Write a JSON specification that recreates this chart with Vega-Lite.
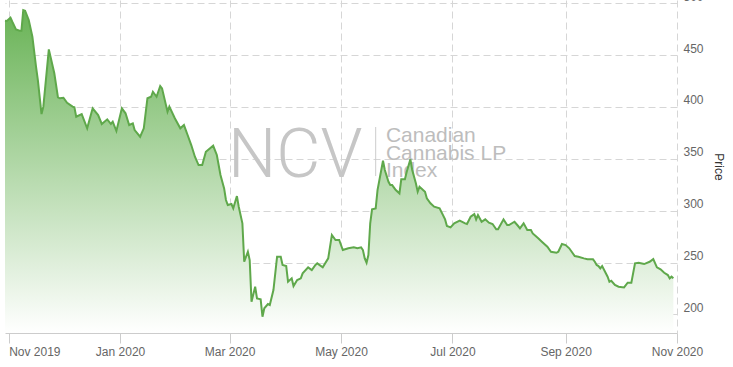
{
  "$schema": "https://vega.github.io/schema/vega-lite/v6.json",
  "width": 672,
  "height": 333,
  "autosize": {"type": "none"},
  "padding": {"left": 5, "top": 0, "right": 56, "bottom": 34},
  "background": "white",
  "config": {"view": {"stroke": null}, "font": "Liberation Sans"},
  "data": {"values": [
    {"date":"2019-10-30","price":483.2},{"date":"2019-10-31","price":482.9},{"date":"2019-11-02","price":486.1},{"date":"2019-11-03","price":482.2},{"date":"2019-11-05","price":474.9},{"date":"2019-11-07","price":473.6},{"date":"2019-11-08","price":473.6},{"date":"2019-11-09","price":493.5},{"date":"2019-11-10","price":492.9},{"date":"2019-11-12","price":483.9},{"date":"2019-11-14","price":467.8},{"date":"2019-11-16","price":438.8},{"date":"2019-11-17","price":426.0},{"date":"2019-11-19","price":393.2},{"date":"2019-11-20","price":400.3},{"date":"2019-11-23","price":455.6},{"date":"2019-11-26","price":432.5},{"date":"2019-11-28","price":409.3},{"date":"2019-11-29","price":408.4},{"date":"2019-12-01","price":408.9},{"date":"2019-12-03","price":404.1},{"date":"2019-12-06","price":400.3},{"date":"2019-12-07","price":399.7},{"date":"2019-12-08","price":390.6},{"date":"2019-12-11","price":393.2},{"date":"2019-12-14","price":379.4},{"date":"2019-12-17","price":398.7},{"date":"2019-12-20","price":392.2},{"date":"2019-12-22","price":383.6},{"date":"2019-12-25","price":388.1},{"date":"2019-12-27","price":383.6},{"date":"2019-12-28","price":385.8},{"date":"2019-12-30","price":376.8},
    {"date":"2020-01-02","price":398.7},{"date":"2020-01-04","price":393.9},{"date":"2020-01-06","price":382.6},{"date":"2020-01-08","price":384.2},{"date":"2020-01-09","price":377.8},{"date":"2020-01-12","price":371.3},{"date":"2020-01-14","price":379.4},{"date":"2020-01-16","price":408.4},{"date":"2020-01-18","price":409.9},{"date":"2020-01-19","price":414.7},{"date":"2020-01-21","price":409.9},{"date":"2020-01-23","price":420.2},{"date":"2020-01-24","price":418.0},{"date":"2020-01-27","price":395.4},{"date":"2020-01-28","price":400.3},{"date":"2020-01-31","price":389.1},
    {"date":"2020-02-03","price":379.4},{"date":"2020-02-05","price":382.6},{"date":"2020-02-07","price":373.0},{"date":"2020-02-09","price":363.3},{"date":"2020-02-11","price":352.0},{"date":"2020-02-13","price":344.0},{"date":"2020-02-15","price":344.0},{"date":"2020-02-17","price":356.8},{"date":"2020-02-21","price":362.6},{"date":"2020-02-23","price":353.7},{"date":"2020-02-25","price":334.4},{"date":"2020-02-27","price":321.5},{"date":"2020-02-28","price":310.3},{"date":"2020-02-29","price":305.4},
    {"date":"2020-03-02","price":306.4},{"date":"2020-03-03","price":302.2},{"date":"2020-03-05","price":314.1},{"date":"2020-03-06","price":303.8},{"date":"2020-03-08","price":287.8},{"date":"2020-03-09","price":250.7},{"date":"2020-03-11","price":260.4},{"date":"2020-03-12","price":252.4},{"date":"2020-03-13","price":212.2},{"date":"2020-03-15","price":226.6},{"date":"2020-03-16","price":215.4},{"date":"2020-03-18","price":214.5},{"date":"2020-03-19","price":197.7},{"date":"2020-03-20","price":205.8},{"date":"2020-03-22","price":209.9},{"date":"2020-03-23","price":209.0},{"date":"2020-03-25","price":223.4},{"date":"2020-03-27","price":255.6},{"date":"2020-03-29","price":255.6},{"date":"2020-03-30","price":247.6},
    {"date":"2020-04-01","price":246.6},{"date":"2020-04-02","price":231.4},{"date":"2020-04-04","price":234.7},{"date":"2020-04-05","price":227.3},{"date":"2020-04-07","price":233.1},{"date":"2020-04-09","price":234.7},{"date":"2020-04-10","price":239.5},{"date":"2020-04-13","price":245.3},{"date":"2020-04-15","price":242.7},{"date":"2020-04-17","price":247.6},{"date":"2020-04-18","price":249.2},{"date":"2020-04-21","price":245.3},{"date":"2020-04-24","price":254.0},{"date":"2020-04-26","price":276.5},{"date":"2020-04-28","price":271.7},{"date":"2020-04-30","price":271.7},
    {"date":"2020-05-02","price":262.0},{"date":"2020-05-05","price":263.7},{"date":"2020-05-08","price":264.6},{"date":"2020-05-10","price":263.7},{"date":"2020-05-12","price":264.6},{"date":"2020-05-13","price":262.0},{"date":"2020-05-14","price":254.0},{"date":"2020-05-15","price":249.8},{"date":"2020-05-16","price":257.2},{"date":"2020-05-17","price":287.8},{"date":"2020-05-18","price":301.3},{"date":"2020-05-20","price":302.2},{"date":"2020-05-21","price":319.9},{"date":"2020-05-24","price":348.2},{"date":"2020-05-25","price":339.2},{"date":"2020-05-27","price":327.9},{"date":"2020-05-28","price":324.7},{"date":"2020-05-29","price":324.7},{"date":"2020-05-31","price":319.9},
    {"date":"2020-06-02","price":316.7},{"date":"2020-06-03","price":330.2},{"date":"2020-06-05","price":330.2},{"date":"2020-06-06","price":337.6},{"date":"2020-06-08","price":349.5},{"date":"2020-06-09","price":339.2},{"date":"2020-06-11","price":326.4},{"date":"2020-06-12","price":318.3},{"date":"2020-06-13","price":323.1},{"date":"2020-06-16","price":318.3},{"date":"2020-06-17","price":311.9},{"date":"2020-06-19","price":307.1},{"date":"2020-06-21","price":303.8},{"date":"2020-06-24","price":302.2},{"date":"2020-06-27","price":291.6},{"date":"2020-06-28","price":285.2},{"date":"2020-06-30","price":283.9},
    {"date":"2020-07-02","price":287.8},{"date":"2020-07-05","price":290.3},{"date":"2020-07-08","price":287.8},{"date":"2020-07-09","price":287.1},{"date":"2020-07-11","price":294.1},{"date":"2020-07-13","price":296.7},{"date":"2020-07-14","price":291.6},{"date":"2020-07-15","price":295.8},{"date":"2020-07-17","price":289.3},{"date":"2020-07-19","price":291.6},{"date":"2020-07-21","price":288.4},{"date":"2020-07-23","price":287.1},{"date":"2020-07-25","price":282.0},{"date":"2020-07-26","price":282.0},{"date":"2020-07-29","price":291.6},{"date":"2020-07-31","price":286.1},
    {"date":"2020-08-01","price":286.1},{"date":"2020-08-04","price":289.3},{"date":"2020-08-06","price":285.2},{"date":"2020-08-07","price":283.0},{"date":"2020-08-09","price":287.8},{"date":"2020-08-11","price":281.3},{"date":"2020-08-13","price":281.3},{"date":"2020-08-14","price":278.1},{"date":"2020-08-17","price":273.3},{"date":"2020-08-19","price":270.0},{"date":"2020-08-22","price":265.2},{"date":"2020-08-24","price":260.4},{"date":"2020-08-27","price":259.4},{"date":"2020-08-28","price":260.4},{"date":"2020-08-30","price":267.8},
    {"date":"2020-09-01","price":266.8},{"date":"2020-09-03","price":263.7},{"date":"2020-09-06","price":256.2},{"date":"2020-09-08","price":255.6},{"date":"2020-09-11","price":254.0},{"date":"2020-09-13","price":253.1},{"date":"2020-09-16","price":253.1},{"date":"2020-09-17","price":250.7},{"date":"2020-09-18","price":247.6},{"date":"2020-09-19","price":246.6},{"date":"2020-09-20","price":244.4},{"date":"2020-09-21","price":246.6},{"date":"2020-09-24","price":236.3},{"date":"2020-09-25","price":231.4},{"date":"2020-09-26","price":232.4},{"date":"2020-09-28","price":228.3},{"date":"2020-09-30","price":226.6},
    {"date":"2020-10-03","price":226.0},{"date":"2020-10-05","price":230.5},{"date":"2020-10-07","price":230.5},{"date":"2020-10-09","price":249.2},{"date":"2020-10-11","price":249.8},{"date":"2020-10-14","price":248.5},{"date":"2020-10-17","price":250.7},{"date":"2020-10-19","price":253.3},{"date":"2020-10-21","price":245.3},{"date":"2020-10-23","price":243.4},{"date":"2020-10-25","price":240.1},{"date":"2020-10-27","price":237.9},{"date":"2020-10-28","price":234.7},{"date":"2020-10-29","price":236.3},{"date":"2020-10-30","price":234.7}
  ]},
  "layer": [
    {
      "data": {"values": [{"label": "NCV"}]},
      "mark": {"type": "text", "align": "left", "baseline": "alphabetic", "font": "Roboto", "fontWeight": 300, "fontSize": 68, "color": "#c6c6c6"},
      "encoding": {
        "x": {"datum": {"year": 2020, "month": 2, "date": 29, "hours": 3}, "type": "temporal"},
        "y": {"datum": 332.7, "type": "quantitative"},
        "text": {"field": "label"}
      }
    },
    {
      "data": {"values": [{"label": "separator"}]},
      "mark": {"type": "rule", "color": "#cccccc", "strokeWidth": 1},
      "encoding": {
        "x": {"datum": {"year": 2020, "month": 5, "date": 20}, "type": "temporal"},
        "y": {"datum": 380.7, "type": "quantitative"},
        "y2": {"datum": 333.4}
      }
    },
    {
      "data": {"values": [{"label": "Canadian|Cannabis LP|Index"}]},
      "mark": {"type": "text", "align": "left", "baseline": "top", "lineBreak": "|", "lineHeight": 17.5, "font": "Liberation Sans", "fontSize": 21, "color": "#bdbdbd"},
      "encoding": {
        "x": {"datum": {"year": 2020, "month": 5, "date": 25, "hours": 14}, "type": "temporal"},
        "y": {"datum": 382.5, "type": "quantitative"},
        "text": {"field": "label"}
      }
    },
    {
      "mark": {"type": "area", "color": {"gradient": "linear", "x1": 0, "y1": 0, "x2": 0, "y2": 1, "stops": [{"offset": 0, "color": "#69b356"}, {"offset": 1, "color": "#ffffff"}]}},
      "encoding": {
        "x": {
          "field": "date", "type": "temporal",
          "scale": {"domain": [{"year": 2019, "month": 10, "date": 30}, {"year": 2020, "month": 11, "date": 1}], "nice": false},
          "axis": {
            "title": null,
            "values": [
              {"year": 2019, "month": 11, "date": 1},
              {"year": 2020, "month": 1, "date": 1},
              {"year": 2020, "month": 3, "date": 1},
              {"year": 2020, "month": 5, "date": 1},
              {"year": 2020, "month": 7, "date": 1},
              {"year": 2020, "month": 9, "date": 1},
              {"year": 2020, "month": 11, "date": 1}
            ],
            "format": "%b %Y",
            "labelFont": "Liberation Sans",
            "labelFontSize": 12,
            "labelColor": "#666666",
            "labelFlush": false,
            "labelOverlap": false,
            "labelAlign": {"condition": {"test": "datum.index == 0", "value": "left"}, "value": "center"},
            "labelPadding": 3,
            "tickSize": 10,
            "tickColor": "#cccccc",
            "domainColor": "#cccccc",
            "grid": true,
            "gridColor": "#d6d6d6",
            "gridDash": [7, 4]
          }
        },
        "y": {
          "field": "price", "type": "quantitative",
          "scale": {"domain": [182, 503.2], "nice": false, "zero": false},
          "axis": {
            "orient": "right",
            "title": "Price",
            "titleFont": "Liberation Sans",
            "titleFontSize": 12,
            "titleFontWeight": "normal",
            "titleColor": "#333333",
            "titleAngle": 90,
            "titlePadding": 8,
            "values": [200, 250, 300, 350, 400, 450, 500],
            "labelFont": "Liberation Sans",
            "labelFontSize": 12,
            "labelColor": "#666666",
            "labelAlign": "left",
            "labelPadding": 6,
            "labelOffset": -7,
            "labelFlush": false,
            "ticks": false,
            "domain": false,
            "grid": true,
            "gridColor": "#d6d6d6",
            "gridDash": [7, 4]
          }
        },
        "y2": {"datum": 182}
      }
    },
    {
      "mark": {"type": "line", "color": "#5fa84b", "strokeWidth": 2},
      "encoding": {
        "x": {"field": "date", "type": "temporal"},
        "y": {"field": "price", "type": "quantitative"}
      }
    }
  ]
}
